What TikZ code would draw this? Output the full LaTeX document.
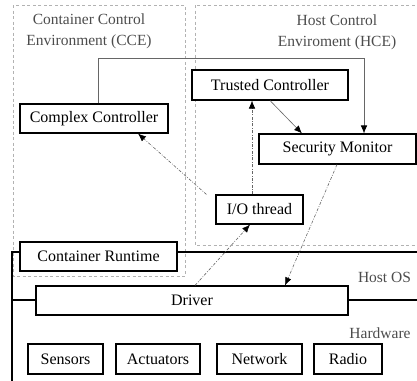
\documentclass[tikz,border=0pt]{standalone}
\usepackage{fontspec}
\setmainfont{Liberation Serif}
\usetikzlibrary{arrows.meta,calc}
\begin{document}
\begin{tikzpicture}[x=1pt,y=-1pt,
 box/.style={draw=black,line width=1.1pt,fill=white,inner sep=0pt,font=\fontsize{16}{18}\selectfont},
 region/.style={draw=gray!60,line width=0.7pt,dash pattern=on 3pt off 2.5pt},
 lbl/.style={font=\fontsize{15.5}{21}\selectfont,text=black!70,align=center,inner sep=0pt},
 flow/.style={draw=black!60,line width=0.6pt,-{Latex[length=8pt,width=6.5pt,color=black]}},
 dflow/.style={flow,dash pattern=on 3pt off 1.5pt on 0.8pt off 1.5pt},
 layer/.style={draw=black,line width=1.1pt}]
\useasboundingbox (0,0) rectangle (417,380);
\clip (0,0) rectangle (417,380);
% regions
\draw[region] (13,5) rectangle (185,276);
\draw[region] (195,5) rectangle (425,245);
\node[lbl] (ccelbl) at (89,31) {Container Control\\Environment (CCE)};
\node[lbl] (hcelbl) at (337,32) {Host Control\\Enviroment (HCE)};
% layers
\coordinate (ostop) at (12,252);
\coordinate (osright) at (425,252);
\coordinate (hwleft) at (12,300);
\coordinate (hwright) at (425,300);
\coordinate (bottom) at (12,390);
\draw[layer] (bottom) -- (ostop) -- (osright);
\draw[layer] (hwleft) -- (hwright);
\node[lbl] (oslbl) at (384.5,277) {Host OS};
\node[lbl] (hwlbl) at (380,333) {Hardware};
% nodes
\node[box,minimum width=148pt,minimum height=29pt] (cc) at (94,118.5) {Complex Controller};
\node[box,minimum width=156pt,minimum height=30pt] (tc) at (270,85) {Trusted Controller};
\node[box,minimum width=157pt,minimum height=30pt] (sm) at (337.5,149) {Security Monitor};
\node[box,minimum width=87pt,minimum height=29pt] (io) at (259.5,209.5) {I/O thread};
\node[box,minimum width=157pt,minimum height=29pt] (cr) at (98.5,256.5) {Container Runtime};
\node[box,minimum width=312pt,minimum height=29pt] (drv) at (192,300.5) {Driver};
\node[box,minimum width=75pt,minimum height=30pt] (sen) at (65.5,359) {Sensors};
\node[box,minimum width=84pt,minimum height=30pt] (act) at (158,359) {Actuators};
\node[box,minimum width=85pt,minimum height=30pt] (net) at (259.5,359) {Network};
\node[box,minimum width=68pt,minimum height=30pt] (rad) at (348,359) {Radio};
% connectors
\coordinate (c1) at (98,58);
\coordinate (c2) at (364,58);
\draw[flow] (cc.north -| c1) -- (c1) -- (c2) -- (sm.north -| c2);
\draw[flow] ([xshift=0pt]tc.south) -- ([xshift=-35.5pt]sm.north);
\draw[dflow] ([xshift=-7.5pt]io.north) -- ([xshift=-18pt]tc.south);
\draw[dflow] ([xshift=-9pt]io.north west) -- ([xshift=44pt]cc.south);
\draw[dflow] ([xshift=-0.5pt]sm.south) -- ([xshift=93pt]drv.north);
\draw[dflow] ([xshift=3pt]drv.north) -- ([xshift=-9.5pt]io.south);
\end{tikzpicture}
\end{document}
